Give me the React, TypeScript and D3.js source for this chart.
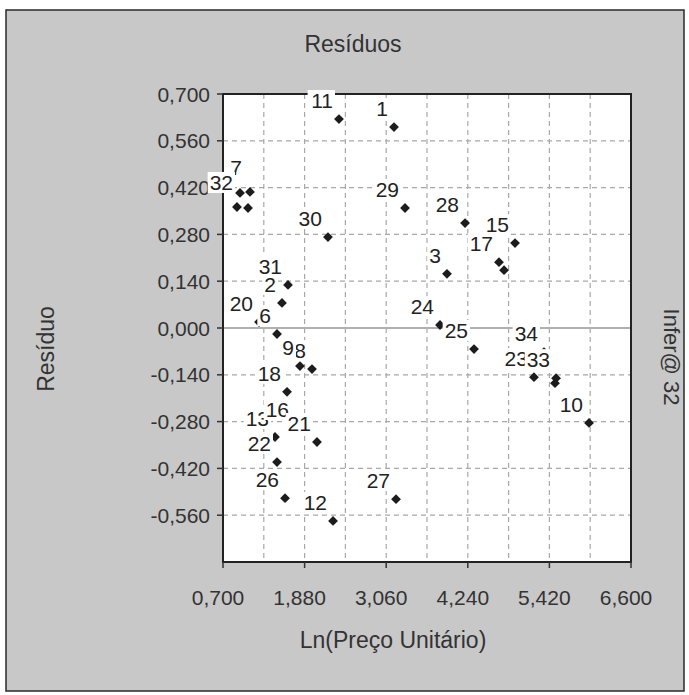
import React from "react";
import * as d3 from "d3";

// ---- data ----
const pointIds = [
  1, 2, 3, 4, 5, 6, 7, 8, 9, 10, 11, 12, 13, 14, 15, 16, 17,
  18, 19, 20, 21, 22, 23, 24, 25, 26, 27, 28, 29, 30, 31, 32, 33, 34,
];
const lnPreco = [
  3.173, 1.553, 3.939, 0.902, 1.062, 1.481, 1.09, 1.987, 1.813, 5.993, 2.377,
  2.291, 1.452, 5.501, 4.923, 1.741, 4.691, 1.626, 4.764, 1.221, 2.059, 1.481,
  5.197, 3.838, 4.33, 1.597, 3.202, 4.2, 3.332, 2.218, 1.64, 0.946, 5.516, 5.342,
];
const residuo = [
  0.601, 0.075, 0.162, 0.362, 0.359, -0.018, 0.407, -0.123, -0.114, -0.284,
  0.625, -0.577, -0.326, -0.165, 0.254, -0.299, 0.197, -0.191, 0.173, 0.018,
  -0.341, -0.401, -0.147, 0.009, -0.063, -0.509, -0.512, 0.314, 0.359, 0.272,
  0.129, 0.404, -0.15, -0.072,
];
// labels hidden behind others in the reference
const hiddenLabels = [4, 5, 14, 19];
// small label nudges (px) where the reference placed a label differently
const labelNudgeIds = [7, 32];
const labelNudgeDx = [-2, -1];
const labelNudgeDy = [-6, 8];

const xTicks = [0.7, 1.88, 3.06, 4.24, 5.42, 6.6];
const xGrid = [1.29, 1.88, 2.47, 3.06, 3.65, 4.24, 4.83, 5.42, 6.01];
const yTicks = [0.7, 0.56, 0.42, 0.28, 0.14, 0, -0.14, -0.28, -0.42, -0.56];

const title = "Resíduos";
const xTitle = "Ln(Preço Unitário)";
const yTitle = "Resíduo";
const rightNote = "Infer@ 32";

const W = 689;
const H = 695;
const FONT = "'Liberation Sans', Arial, Helvetica, sans-serif";

export default function App() {
  const x = d3.scaleLinear().domain([0.7, 6.6]).range([223, 631]);
  const y = d3.scaleLinear().domain([-0.7, 0.7]).range([562, 94]);
  const fmt = (v: number) => d3.format(".3f")(v).replace(".", ",").replace("−", "-");
  const marker = d3.symbol(d3.symbolSquare, 48)() as string;

  const pts = pointIds.map((id, i) => ({ id, x: lnPreco[i], y: residuo[i] }));

  const labelSize = 21;
  const approxW = (s: string) => s.length * labelSize * 0.556;

  return (
    <svg
      width={W}
      height={H}
      style={{ position: "absolute", left: 0, top: 0, background: "#ffffff" }}
      fontFamily={FONT}
    >
      {/* outer gray frame */}
      <rect x={6} y={10} width={678} height={681} fill="#c8c8c8" stroke="#2a2a2a" strokeWidth={1.5} />

      {/* title */}
      <text x={353} y={52} textAnchor="middle" fontSize={23} fill="#333">
        {title}
      </text>

      {/* plot area */}
      <rect x={x(0.7)} y={y(0.7)} width={x(6.6) - x(0.7)} height={y(-0.7) - y(0.7)} fill="#ffffff" />

      {/* vertical grid */}
      {xGrid.map((v) => (
        <line
          key={"gx" + v}
          x1={x(v)}
          x2={x(v)}
          y1={y(0.7)}
          y2={y(-0.7)}
          stroke="#a8a8a8"
          strokeWidth={1.2}
          strokeDasharray="5,4"
        />
      ))}
      {/* horizontal grid */}
      {yTicks
        .filter((v) => v !== 0.7 && v !== 0)
        .map((v) => (
          <line
            key={"gy" + v}
            x1={x(0.7)}
            x2={x(6.6)}
            y1={y(v)}
            y2={y(v)}
            stroke="#a8a8a8"
            strokeWidth={1.2}
            strokeDasharray="5,4"
          />
        ))}
      {/* zero line */}
      <line x1={x(0.7)} x2={x(6.6)} y1={y(0)} y2={y(0)} stroke="#b0b0b0" strokeWidth={2} />

      {/* plot border */}
      <rect
        x={x(0.7)}
        y={y(0.7)}
        width={x(6.6) - x(0.7)}
        height={y(-0.7) - y(0.7)}
        fill="none"
        stroke="#222"
        strokeWidth={2}
      />

      {/* y ticks + labels */}
      {yTicks.map((v) => (
        <g key={"yt" + v}>
          <line x1={x(0.7) - 6} x2={x(0.7)} y1={y(v)} y2={y(v)} stroke="#333" strokeWidth={1.5} />
          <text x={210} y={y(v) + 7.5} textAnchor="end" fontSize={21} fill="#333">
            {fmt(v)}
          </text>
        </g>
      ))}

      {/* x ticks + labels */}
      {xTicks.map((v) => (
        <g key={"xt" + v}>
          <line x1={x(v)} x2={x(v)} y1={y(-0.7)} y2={y(-0.7) + 6} stroke="#333" strokeWidth={1.5} />
          <text x={x(v) - 5} y={605} textAnchor="middle" fontSize={21} fill="#333">
            {fmt(v)}
          </text>
        </g>
      ))}

      {/* axis titles */}
      <text x={393} y={648} textAnchor="middle" fontSize={23} fill="#333">
        {xTitle}
      </text>
      <text
        transform={`translate(46,349) rotate(-90)`}
        textAnchor="middle"
        dominantBaseline="central"
        fontSize={23}
        fill="#333"
      >
        {yTitle}
      </text>
      <text
        transform={`translate(671,357) rotate(90)`}
        textAnchor="middle"
        dominantBaseline="central"
        fontSize={22}
        fill="#333"
      >
        {rightNote}
      </text>

      {/* markers */}
      {pts.map((p) => (
        <path
          key={"m" + p.id}
          d={marker}
          transform={`translate(${x(p.x)},${y(p.y)}) rotate(45)`}
          fill="#1c1c1c"
        />
      ))}

      {/* point labels with white boxes */}
      {pts
        .filter((p) => !hiddenLabels.includes(p.id))
        .map((p) => {
          const s = String(p.id);
          const k = labelNudgeIds.indexOf(p.id);
          const tx = x(p.x) - 6 + (k >= 0 ? labelNudgeDx[k] : 0);
          const ty = y(p.y) - 11 + (k >= 0 ? labelNudgeDy[k] : 0);
          const w = approxW(s);
          return (
            <g key={"l" + p.id}>
              <rect x={tx - w - 2} y={ty - 18} width={w + 4} height={21} fill="#ffffff" />
              <text x={tx} y={ty} textAnchor="end" fontSize={labelSize} fill="#222">
                {s}
              </text>
            </g>
          );
        })}
    </svg>
  );
}
